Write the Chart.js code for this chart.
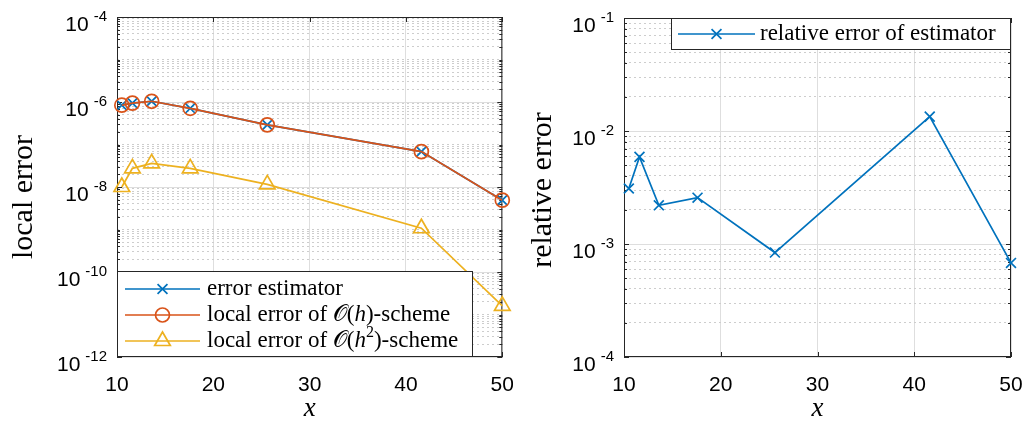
<!DOCTYPE html>
<html>
<head>
<meta charset="utf-8">
<script src="https://cdn.jsdelivr.net/npm/chart.js@4.4.0/dist/chart.umd.min.js"></script>
<style>
html, body { margin: 0; padding: 0; background: #fff; }
#wrap { position: relative; width: 1026px; height: 426px; overflow: hidden; }
canvas { position: absolute; top: 0; }
</style>
</head>
<body>
<div id="wrap">
  <canvas id="left" width="513" height="426" style="left:0"></canvas>
  <canvas id="right" width="513" height="426" style="left:513px"></canvas>
</div>
<script>
// data
const xPositions = [10.5, 11.6, 13.6, 17.6, 25.6, 41.6, 50];
const errorEstimator = [8.4e-7, 9.4e-7, 1.04e-6, 7.1e-7, 2.9e-7, 6.8e-8, 4.9e-9];
const localErrorH = [8.4e-7, 9.4e-7, 1.04e-6, 7.1e-7, 2.9e-7, 6.8e-8, 4.9e-9];
const localErrorH2 = [1.0e-8, 2.75e-8, 3.6e-8, 2.75e-8, 1.15e-8, 1.07e-9, 1.6e-11];
const relativeError = [3.1e-3, 5.9e-3, 2.2e-3, 2.57e-3, 8.4e-4, 1.34e-2, 6.8e-4];

const xTicks = [10, 20, 30, 40, 50];
const leftMajorExps = [-12, -10, -8, -6, -4];
const rightMajorExps = [-4, -3, -2, -1];

const BLUE = '#0072BD';
const ORANGE = '#D95319';
const YELLOW = '#EDB120';
const AXIS = '#262626';
const SERIF = '"Liberation Serif", "Times New Roman", serif';
const SANS = '"Liberation Sans", Arial, sans-serif';

function puntos(valores){
    return xPositions.map((x, i) => ({x: x, y: valores[i]}));
}

// every decade gets 1..9 ticks, only the listed exponents are major
function logTicks(majorExps){
    const minE = Math.min(...majorExps);
    const maxE = Math.max(...majorExps);
    const ticks = [];
    for(let e = minE; e < maxE; e++){
        for(let k = 1; k <= 9; k++){
            ticks.push({value: k * Math.pow(10, e), major: k === 1 && majorExps.includes(e), exp: e});
        }
    }
    ticks.push({value: Math.pow(10, maxE), major: true, exp: maxE});
    return ticks;
}

function dibujarMarcador(ctx, estilo, x, y, r){
    ctx.beginPath();
    if(estilo === 'crossRot'){
        const d = Math.cos(Math.PI / 4) * r;
        ctx.moveTo(x - d, y - d); ctx.lineTo(x + d, y + d);
        ctx.moveTo(x + d, y - d); ctx.lineTo(x - d, y + d);
    }else if(estilo === 'circle'){
        ctx.arc(x, y, r, 0, Math.PI * 2);
    }else if(estilo === 'triangle'){
        ctx.moveTo(x, y - r);
        ctx.lineTo(x + Math.sin(Math.PI * 2 / 3) * r, y + r / 2);
        ctx.lineTo(x - Math.sin(Math.PI * 2 / 3) * r, y + r / 2);
        ctx.closePath();
    }
    ctx.stroke();
}

function textoRico(ctx, partes, x, y){
    let cx = x;
    partes.forEach(p => {
        ctx.font = p.f;
        ctx.fillText(p.t, cx, y + (p.dy || 0));
        cx += ctx.measureText(p.t).width;
    });
}

function crearPlugin(cfg){
    return {
        id: 'decoracion',
        beforeDatasetsDraw(chart){
            const ctx = chart.ctx;
            const ca = chart.chartArea;
            const ys = chart.scales.y;
            const xs = chart.scales.x;
            ctx.save();
            ctx.strokeStyle = AXIS;
            ctx.lineWidth = 1;
            // inward tick marks
            ctx.beginPath();
            ys.ticks.forEach(t => {
                const py = Math.round(ys.getPixelForValue(t.value)) + 0.5;
                const len = t.major ? 5 : 3;
                ctx.moveTo(ca.left, py); ctx.lineTo(ca.left + len, py);
                ctx.moveTo(ca.right, py); ctx.lineTo(ca.right - len, py);
            });
            xs.ticks.forEach(t => {
                const px = Math.round(xs.getPixelForValue(t.value)) + 0.5;
                ctx.moveTo(px, ca.bottom); ctx.lineTo(px, ca.bottom - 5);
                ctx.moveTo(px, ca.top); ctx.lineTo(px, ca.top + 5);
            });
            ctx.stroke();
            ctx.strokeRect(ca.left + 0.5, ca.top + 0.5, ca.right - ca.left - 1, ca.bottom - ca.top - 1);
            ctx.restore();
        },
        afterDraw(chart){
            const ctx = chart.ctx;
            const ca = chart.chartArea;
            const ys = chart.scales.y;
            const xs = chart.scales.x;
            ctx.save();
            ctx.fillStyle = '#000';
            ctx.textBaseline = 'alphabetic';

            // x tick labels
            ctx.font = '21px ' + SANS;
            ctx.textAlign = 'center';
            xTicks.forEach(v => {
                ctx.fillText(String(v), xs.getPixelForValue(v), 391);
            });

            // y tick labels 10^e
            ys.ticks.filter(t => t.major).forEach(t => {
                const py = ys.getPixelForValue(t.value);
                const sup = String(t.exp);
                ctx.textAlign = 'right';
                ctx.font = '15px ' + SANS;
                const supX = ca.left - 10;
                ctx.fillText(sup, supX, py + 4);
                const w = ctx.measureText(sup).width;
                ctx.font = '21px ' + SANS;
                ctx.fillText('10', supX - w - 5, py + 14);
            });

            // axis titles
            ctx.font = 'italic 27px ' + SERIF;
            ctx.textAlign = 'center';
            ctx.fillText('x', (ca.left + ca.right) / 2, 416);

            ctx.save();
            ctx.translate(cfg.yTitleX, cfg.yTitleY);
            ctx.rotate(-Math.PI / 2);
            ctx.font = '30px ' + SERIF;
            ctx.fillText(cfg.yTitle, 0, 0);
            ctx.restore();

            // legend
            const lg = cfg.legend;
            const bx = lg.anchor === 'bl' ? ca.left : ca.right - lg.w;
            const by = lg.anchor === 'bl' ? ca.bottom - lg.h : ca.top;
            ctx.fillStyle = '#fff';
            ctx.fillRect(bx, by, lg.w, lg.h);
            ctx.strokeStyle = AXIS;
            ctx.lineWidth = 1;
            ctx.strokeRect(bx + 0.5, by + 0.5, lg.w - 1, lg.h - 1);
            lg.entries.forEach((en, i) => {
                const ey = by + lg.y0 + i * lg.dy;
                ctx.strokeStyle = en.color;
                ctx.lineWidth = 1.7;
                ctx.beginPath();
                ctx.moveTo(bx + lg.l1, ey); ctx.lineTo(bx + lg.l2, ey);
                ctx.stroke();
                dibujarMarcador(ctx, en.style, bx + (lg.l1 + lg.l2) / 2, ey, en.r);
                ctx.fillStyle = '#000';
                ctx.textAlign = 'left';
                ctx.textBaseline = 'middle';
                textoRico(ctx, en.text, bx + lg.tx, ey);
            });
            ctx.restore();
        }
    };
}

function serie(label, valores, color, estilo, radio, orden){
    return {
        label: label,
        data: puntos(valores),
        borderColor: color,
        backgroundColor: color,
        borderWidth: 1.7,
        pointStyle: estilo,
        pointRadius: radio,
        pointBorderColor: color,
        pointBackgroundColor: 'rgba(0,0,0,0)',
        pointBorderWidth: 1.7,
        tension: 0,
        clip: false,
        order: orden
    };
}

function opciones(yMin, yMax, majorExps, padding){
    return {
        responsive: false,
        maintainAspectRatio: false,
        animation: false,
        devicePixelRatio: 1,
        events: [],
        layout: {padding: padding},
        plugins: {legend: {display: false}, tooltip: {enabled: false}},
        scales: {
            x: {
                type: 'linear',
                min: 10,
                max: 50,
                afterBuildTicks: (scale) => { scale.ticks = xTicks.map(v => ({value: v})); },
                ticks: {display: false},
                grid: {color: '#dedede', lineWidth: 1, drawTicks: false},
                border: {display: false}
            },
            y: {
                type: 'logarithmic',
                min: yMin,
                max: yMax,
                afterBuildTicks: (scale) => { scale.ticks = logTicks(majorExps); },
                ticks: {display: false},
                grid: {
                    color: (c) => (c.tick && c.tick.major) ? '#dedede' : '#cdcdcd',
                    lineWidth: 1,
                    drawTicks: false
                },
                border: {
                    display: false,
                    dash: (c) => (c.tick && !c.tick.major) ? [2, 3] : []
                }
            }
        }
    };
}

const fuente = '23px ' + SERIF;
const fuenteIt = 'italic 23px ' + SERIF;
const fuenteO = '23px "DejaVu Serif", "DejaVu Sans", "Noto Sans", serif';

new Chart(document.getElementById('left'), {
    type: 'line',
    data: {
        datasets: [
            serie('error estimator', errorEstimator, BLUE, 'crossRot', 7, 3),
            serie('local error of O(h)-scheme', localErrorH, ORANGE, 'circle', 7, 2),
            serie('local error of O(h^2)-scheme', localErrorH2, YELLOW, 'triangle', 9, 1)
        ]
    },
    options: opciones(1e-12, 1e-4, leftMajorExps, {left: 117, right: 10, top: 17, bottom: 69}),
    plugins: [crearPlugin({
        yTitle: 'local error',
        yTitleX: 32,
        yTitleY: 197,
        legend: {
            anchor: 'bl', w: 356, h: 86, y0: 18, dy: 26, l1: 8, l2: 83, tx: 90,
            entries: [
                {color: BLUE, style: 'crossRot', r: 7, text: [{t: 'error estimator', f: fuente}]},
                {color: ORANGE, style: 'circle', r: 7, text: [
                    {t: 'local error of ', f: fuente}, {t: '𝒪', f: fuenteO}, {t: '(', f: fuente},
                    {t: 'h', f: fuenteIt}, {t: ')-scheme', f: fuente}]},
                {color: YELLOW, style: 'triangle', r: 9, text: [
                    {t: 'local error of ', f: fuente}, {t: '𝒪', f: fuenteO}, {t: '(', f: fuente},
                    {t: 'h', f: fuenteIt}, {t: '2', f: '16px ' + SERIF, dy: -8}, {t: ')-scheme', f: fuente}]}
            ]
        }
    })]
});

new Chart(document.getElementById('right'), {
    type: 'line',
    data: {
        datasets: [
            serie('relative error of estimator', relativeError, BLUE, 'crossRot', 7, 1)
        ]
    },
    options: opciones(1e-4, 1e-1, rightMajorExps, {left: 111, right: 15, top: 18, bottom: 69}),
    plugins: [crearPlugin({
        yTitle: 'relative error',
        yTitleX: 38,
        yTitleY: 190,
        legend: {
            anchor: 'tr', w: 340, h: 32, y0: 16, dy: 0, l1: 7, l2: 84, tx: 89,
            entries: [
                {color: BLUE, style: 'crossRot', r: 7, text: [{t: 'relative error of estimator', f: fuente}]}
            ]
        }
    })]
});
</script>
</body>
</html>
